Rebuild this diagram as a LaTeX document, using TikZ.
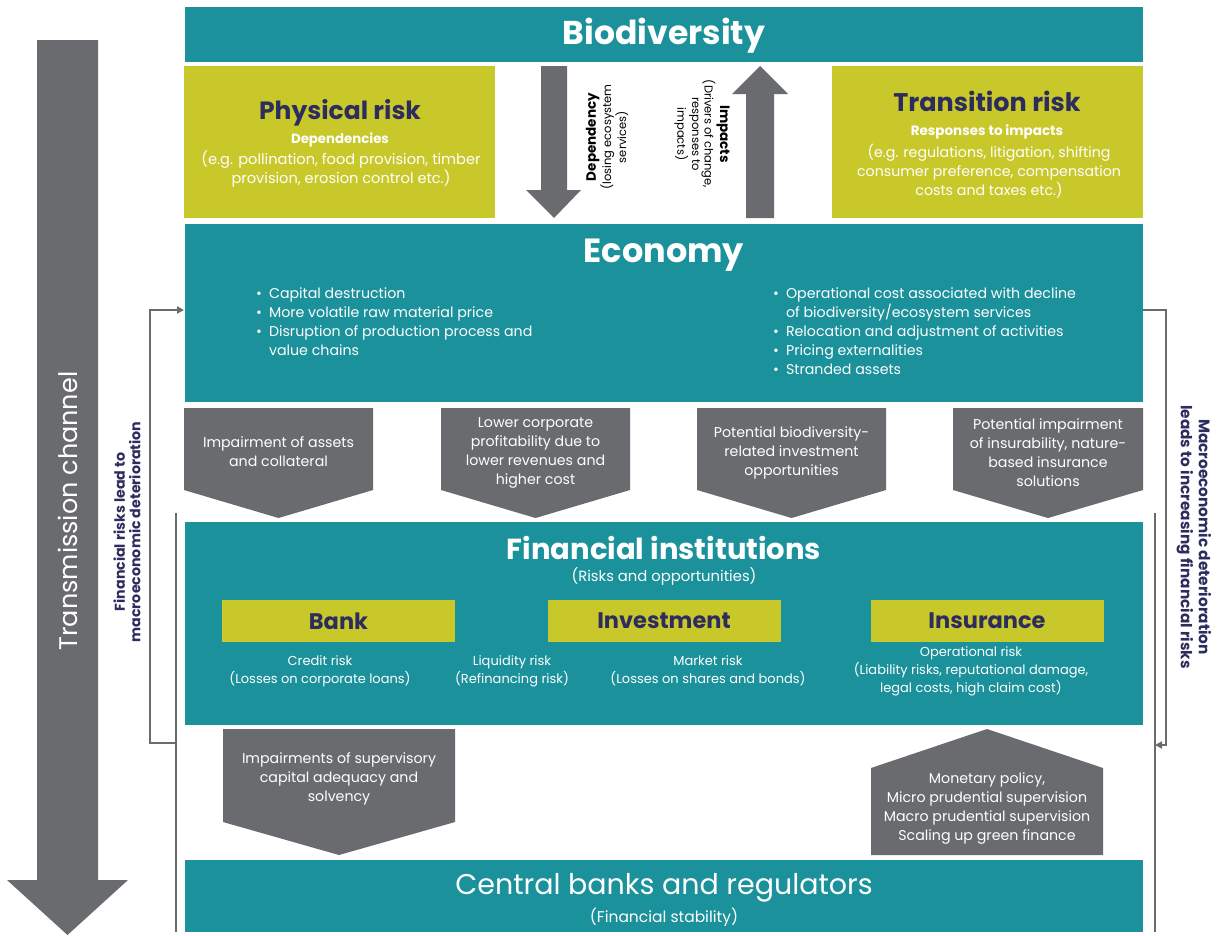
\documentclass[tikz,border=0pt]{standalone}
\usepackage{fontspec}
\setmainfont{Poppins}
\usetikzlibrary{arrows.meta}
\definecolor{teal1}{HTML}{1A919B}
\definecolor{olive1}{HTML}{C9C82B}
\definecolor{gray1}{HTML}{6A6B6F}
\definecolor{navy1}{HTML}{2D2C5E}
\newcommand\myfs[2]{\fontsize{#1}{#2}\selectfont}
\begin{document}
\begin{tikzpicture}[x=1pt,y=-1pt,
  tbox/.style={fill=teal1, inner sep=0pt, outer sep=0pt},
  obox/.style={fill=olive1, inner sep=0pt, outer sep=0pt},
  wt/.style={inner sep=0pt, align=center, text=white},
  nt/.style={inner sep=0pt, align=center, text=navy1},
  gshape/.style={fill=gray1},
  fbl/.style={draw=gray1, line width=1.8pt},
  fbarrow/.style={fbl, -{Triangle[length=7pt,width=7pt]}},
  small/.style={font=\myfs{14.2}{19}},
  fitem/.style={font=\myfs{13}{18}},
  subbox/.style={obox, minimum width=233pt, minimum height=42pt, text=navy1, font=\myfs{22.5}{24}\bfseries},
]
\useasboundingbox (0,0) rectangle (1225,935);
\fill[white] (0,0) rectangle (1225,935);

% transmission channel arrow
\fill[gshape] (37,40) -- (98,40) -- (98,880) -- (128,880) -- (67.5,935) -- (7,880) -- (37,880) -- cycle;
\node[wt, rotate=90, font=\myfs{25.5}{28}] (trans) at (68,511) {Transmission channel};

% Biodiversity
\node[tbox, minimum width=958pt, minimum height=55pt] (bio) at (664,34.5) {};
\node[wt, font=\myfs{33}{35}\bfseries] (biot) at (664,36) {Biodiversity};

% Physical risk
\node[obox, minimum width=311pt, minimum height=152pt] (phys) at (339.5,142) {};
\node[nt, font=\myfs{25}{28}\bfseries] (physt) at (340,113) {Physical risk};
\node[wt, font=\myfs{13.3}{15}\bfseries] (physd) at (340,140) {Dependencies};
\node[wt, font=\myfs{14.6}{19}] (physe) at (341,169) {(e.g. pollination, food provision, timber\\provision, erosion control etc.)};

% Transition risk
\node[obox, minimum width=311pt, minimum height=152pt] (tran) at (987.5,142) {};
\node[nt, font=\myfs{25.5}{28}\bfseries] (trant) at (987,101) {Transition risk};
\node[wt, font=\myfs{13.5}{15}\bfseries] (trand) at (987,132) {Responses to impacts};
\node[wt, font=\myfs{14.2}{19}] (trane) at (989,171) {(e.g. regulations, litigation, shifting\\consumer preference, compensation\\costs and taxes etc.)};

% dependency / impacts arrows
\fill[gshape] (541,66) -- (567,66) -- (567,190) -- (581,190) -- (554,218) -- (526,190) -- (541,190) -- cycle;
\fill[gshape] (746,218) -- (774,218) -- (774,94) -- (788,94) -- (760,66) -- (732,94) -- (746,94) -- cycle;
\node[inner sep=0pt, align=center, rotate=90, font=\myfs{11.5}{12.5}] (dep) at (607,137)
  {\myfs{13.5}{15}\bfseries Dependency\\ \myfs{11.5}{12.5}\mdseries (losing ecosystem\\services)};
\node[inner sep=0pt, align=center, rotate=-90, font=\myfs{11.5}{12.5}] (imp) at (702,134)
  {\myfs{13.5}{14}\bfseries Impacts\\ \myfs{11.5}{12.5}\mdseries (Drivers of change,\\responses to\\impacts)};

% Economy
\node[tbox, minimum width=958pt, minimum height=178pt] (eco) at (664,313) {};
\node[wt, font=\myfs{33.5}{35}\bfseries] (ecot) at (664,255) {Economy};
\node[wt, anchor=north west, align=left, font=\myfs{14.2}{19}] (ecol) at (256,285)
  {\begin{tabular}{@{}l@{\hspace{7pt}}l@{}}
   \textbullet & Capital destruction\\
   \textbullet & More volatile raw material price\\
   \textbullet & Disruption of production process and\\
               & value chains
   \end{tabular}};
\node[wt, anchor=north west, align=left, font=\myfs{14.2}{19}] (ecor) at (773,285)
  {\begin{tabular}{@{}l@{\hspace{7pt}}l@{}}
   \textbullet & Operational cost associated with decline\\
               & of biodiversity/ecosystem services\\
   \textbullet & Relocation and adjustment of activities\\
   \textbullet & Pricing externalities\\
   \textbullet & Stranded assets
   \end{tabular}};

% chevrons economy -> financial
\fill[gshape] (184,408) -- (373,408) -- (373,490) -- (278.5,518) -- (184,490) -- cycle;
\fill[gshape] (441,408) -- (630,408) -- (630,490) -- (535.5,518) -- (441,490) -- cycle;
\fill[gshape] (697,408) -- (886,408) -- (886,490) -- (791.5,518) -- (697,490) -- cycle;
\fill[gshape] (953,408) -- (1143,408) -- (1143,490) -- (1048,518) -- (953,490) -- cycle;
\node[wt, small] (ch1) at (278.5,452) {Impairment of assets\\and collateral};
\node[wt, small] (ch2) at (535.5,453) {Lower corporate\\profitability due to\\lower revenues and\\higher cost};
\node[wt, small] (ch3) at (791.5,453) {Potential biodiversity-\\related investment\\opportunities};
\node[wt, small] (ch4) at (1048,453) {Potential impairment\\of insurability, nature-\\based insurance\\solutions};

% Financial institutions
\node[tbox, minimum width=958pt, minimum height=203pt] (fin) at (664,623.5) {};
\node[wt, font=\myfs{29}{31}\bfseries] (fint) at (664,548) {Financial institutions};
\node[wt, font=\myfs{14.8}{17}] (fins) at (664,577) {(Risks and opportunities)};
\node[subbox] (bank) at (338.5,621) {Bank};
\node[subbox] (inv) at (664,621) {Investment};
\node[subbox] (ins) at (987,621) {Insurance};
\node[wt, fitem] (cred) at (320,671) {Credit risk\\(Losses on corporate loans)};
\node[wt, fitem] (liq) at (512,671) {Liquidity risk\\(Refinancing risk)};
\node[wt, fitem] (mkt) at (708,671) {Market risk\\(Losses on shares and bonds)};
\node[wt, fitem] (opr) at (971,671) {Operational risk\\(Liability risks, reputational damage,\\legal costs, high claim cost)};

% lower shapes
\fill[gshape] (223,729) -- (455,729) -- (455,822) -- (339,855) -- (223,822) -- cycle;
\fill[gshape] (871,855) -- (871,768) -- (987,729) -- (1103,768) -- (1103,855) -- cycle;
\node[wt, small] (sup) at (339,779) {Impairments of supervisory\\capital adequacy and\\solvency};
\node[wt, small] (pol) at (987,808) {Monetary policy,\\Micro prudential supervision\\Macro prudential supervision\\Scaling up green finance};

% Central banks
\node[tbox, minimum width=958pt, minimum height=72pt] (cb) at (664,896) {};
\node[wt, font=\myfs{28.5}{30}] (cbt) at (664,888) {Central banks and regulators};
\node[wt, font=\myfs{15.5}{17}] (cbs) at (664,917) {(Financial stability)};

% feedback lines
\coordinate (lb1) at (176,743);
\coordinate (lb2) at (150,743);
\coordinate (lt2) at (150,310);
\coordinate (lt1) at (184,310);
\draw[fbarrow] (lb1) -- (lb2) -- (lt2) -- (lt1);
\coordinate (lv1) at (176,513);
\coordinate (lv2) at (176,932);
\draw[fbl] (lv1) -- (lv2);
\coordinate (rt1) at (1143,310);
\coordinate (rt2) at (1166,310);
\coordinate (rb2) at (1166,745);
\coordinate (rb1) at (1155,745);
\draw[fbarrow] (rt1) -- (rt2) -- (rb2) -- (rb1);
\coordinate (rv1) at (1155,513);
\coordinate (rv2) at (1155,932);
\draw[fbl] (rv1) -- (rv2);

\node[nt, rotate=90, font=\myfs{14.2}{15.5}\bfseries] (lfb) at (127,532) {Financial risks lead to\\macroeconomic deterioration};
\node[nt, rotate=-90, font=\myfs{15.3}{18}\bfseries] (rfb) at (1194,537) {Macroeconomic deterioration\\leads to increasing financial risks};
\end{tikzpicture}
\end{document}
